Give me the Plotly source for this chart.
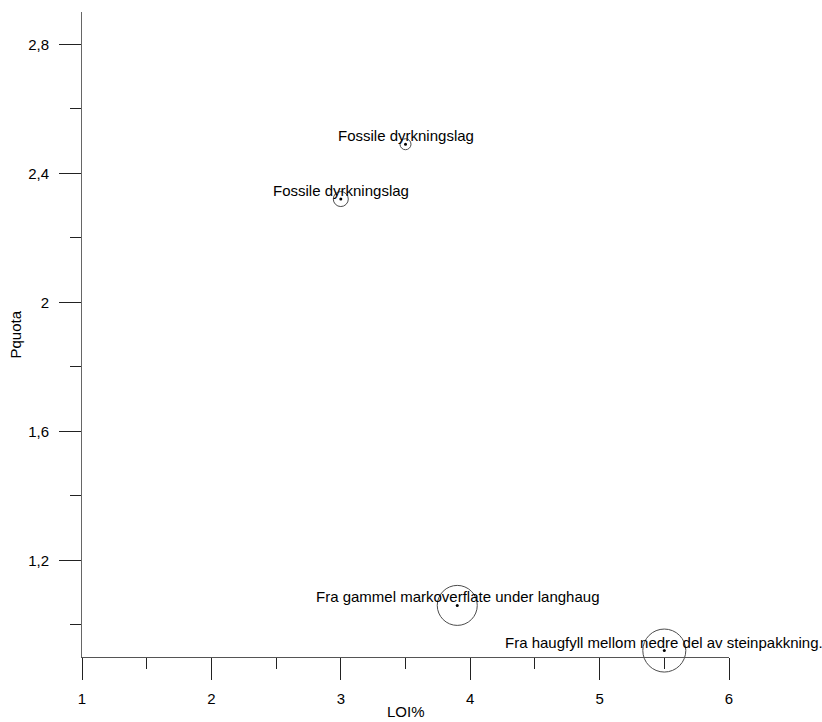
import plotly.graph_objects as go

loi = [3.5, 3.0, 3.9, 5.5]
pquota = [2.49, 2.32, 1.06, 0.92]
circle_size = [11, 15, 40, 43]
labels = [
    "Fossile dyrkningslag",
    "Fossile dyrkningslag",
    "Fra gammel markoverflate under langhaug",
    "Fra haugfyll mellom nedre del av steinpakkning.",
]
x_ticks = [1, 2, 3, 4, 5, 6]
y_ticks = [1.2, 1.6, 2.0, 2.4, 2.8]
y_ticktext = ["1,2", "1,6", "2", "2,4", "2,8"]

FONT = "Arial, Liberation Sans, sans-serif"
FS = 15

fig = go.Figure()
fig.add_trace(go.Scatter(
    x=loi, y=pquota, mode="markers",
    marker=dict(size=circle_size, color="rgba(0,0,0,0)",
                line=dict(color="black", width=1)),
    cliponaxis=False, showlegend=False, hoverinfo="skip",
))
fig.add_trace(go.Scatter(
    x=loi, y=pquota, mode="markers",
    marker=dict(size=3, color="black"),
    cliponaxis=False, showlegend=False,
))
for xv, yv, t in zip(loi, pquota, labels):
    fig.add_annotation(x=xv, y=yv, text=t, showarrow=False,
                       xanchor="center", yanchor="bottom", yshift=-2,
                       font=dict(family=FONT, size=FS, color="black"))

fig.add_annotation(text="LOI%", xref="paper", yref="paper", x=0.5, y=0,
                   yshift=-44, yanchor="top", showarrow=False,
                   font=dict(family=FONT, size=FS, color="black"))
fig.add_annotation(text="Pquota", xref="paper", yref="paper", x=0, y=0.5,
                   xshift=-67, xanchor="center", textangle=-90, showarrow=False,
                   font=dict(family=FONT, size=FS, color="black"))

fig.update_layout(
    width=822, height=722,
    margin=dict(l=82, r=93, t=12, b=65),
    paper_bgcolor="white", plot_bgcolor="white",
    font=dict(family=FONT, size=FS, color="black"),
    showlegend=False,
)
fig.update_xaxes(
    range=[1, 6], tickvals=x_ticks, ticks="outside", ticklen=22, tickwidth=1,
    tickcolor="#222", showline=True, linecolor="#555", linewidth=1,
    showgrid=False, zeroline=False, ticklabelstandoff=6,
    minor=dict(dtick=0.5, ticks="outside", ticklen=11, tickcolor="#222", showgrid=False),
    tickfont=dict(size=FS),
)
fig.update_yaxes(
    range=[0.9, 2.9], tickvals=y_ticks, ticktext=y_ticktext,
    ticks="outside", ticklen=22, tickwidth=1,
    tickcolor="#222", showline=True, linecolor="#666", linewidth=1,
    showgrid=False, zeroline=False, ticklabelstandoff=7,
    minor=dict(tick0=1.0, dtick=0.2, ticks="outside", ticklen=11, tickcolor="#222", showgrid=False),
    tickfont=dict(size=FS),
)

fig.write_html("out.html", config={"displayModeBar": False},
               post_script="document.body.style.margin='0';document.body.style.overflow='hidden';")
